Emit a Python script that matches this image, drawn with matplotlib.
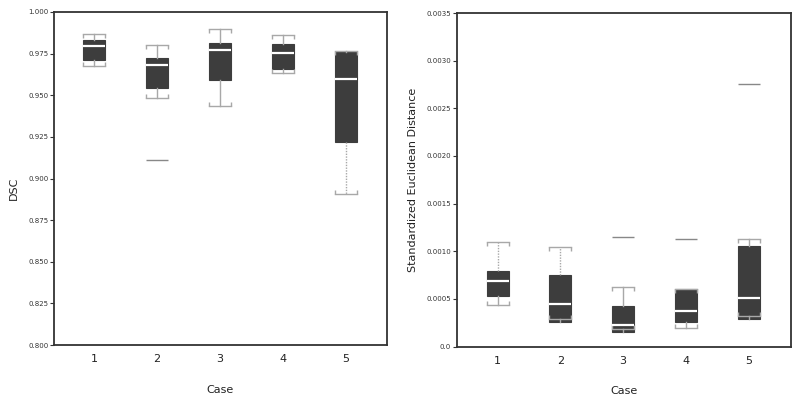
import matplotlib
matplotlib.use('Agg')
import matplotlib.pyplot as plt
from matplotlib.path import Path

# cases on the x axis
cases = [1, 2, 3, 4, 5]

# DSC boxes
dsc_whishi = [0.9868, 0.9800, 0.9900, 0.9864, 0.9768]
dsc_q3 = [0.9830, 0.9722, 0.9816, 0.9810, 0.9758]
dsc_med = [0.9798, 0.9680, 0.9770, 0.9756, 0.9600]
dsc_q1 = [0.9714, 0.9544, 0.9592, 0.9656, 0.9217]
dsc_whislo = [0.9674, 0.9484, 0.9434, 0.9634, 0.8907]
dsc_fliers = [[], [0.9110], [], [], []]

# standardized euclidean distance boxes
sed_whishi = [0.00110, 0.00104, 0.00063, 0.00060, 0.001125]
sed_q3 = [0.00079, 0.00075, 0.00043, 0.00060, 0.001055]
sed_med = [0.00069, 0.00045, 0.00023, 0.00037, 0.00051]
sed_q1 = [0.00053, 0.00026, 0.00015, 0.00026, 0.00029]
sed_whislo = [0.00044, 0.00029, 0.00018, 0.00019, 0.00032]
sed_fliers = [[], [], [0.001155], [0.00113], [0.00276]]

# which whiskers are dotted (lower, upper) per case
dsc_dotted = [(False, False), (False, False), (False, False), (False, False), (True, False)]
sed_dotted = [(False, True), (False, True), (False, False), (False, False), (False, False)]

dsc_ticks = [0.800, 0.825, 0.850, 0.875, 0.900, 0.925, 0.950, 0.975, 1.000]
dsc_ticklabels = ['0.800', '0.825', '0.850', '0.875', '0.900', '0.925', '0.950', '0.975', '1.000']
sed_ticks = [0.0, 0.0005, 0.0010, 0.0015, 0.0020, 0.0025, 0.0030, 0.0035]
sed_ticklabels = ['0.0', '0.0005', '0.0010', '0.0015', '0.0020', '0.0025', '0.0030', '0.0035']

BOX = '#3d3d3d'
WHISK = '#a8a8a8'
SPINE = '#333333'


def drawPanel(ax, whishi, q3, med, q1, whislo, fliers, dotted, ylim, ticks, ticklabels, ylabel, xlim):
    stats = []
    for i in range(len(cases)):
        stats.append({'med': med[i], 'q1': q1[i], 'q3': q3[i],
                      'whislo': whislo[i], 'whishi': whishi[i],
                      'fliers': fliers[i], 'label': str(cases[i])})
    bp = ax.bxp(stats, positions=cases, widths=0.35, patch_artist=True,
                showfliers=True,
                boxprops=dict(facecolor=BOX, edgecolor=BOX, linewidth=0.8),
                medianprops=dict(color='white', linewidth=1.6),
                whiskerprops=dict(color=WHISK, linewidth=1.0),
                capprops=dict(color=WHISK, linewidth=1.0),
                capwidths=0.35,
                flierprops=dict(marker='_', markersize=16, markeredgecolor='#888888',
                                markeredgewidth=1.0, linestyle='none'))
    # caps look like brackets: small ticks pointing toward the box
    down = Path([(0, 0), (0, -1)])
    up = Path([(0, 0), (0, 1)])
    for k, cap in enumerate(bp['caps']):
        cap.set_marker(up if k % 2 == 0 else down)
        cap.set_markersize(6)
        cap.set_markeredgecolor(WHISK)
        cap.set_markeredgewidth(1.0)
        cap.set_zorder(4)
    for k, wh in enumerate(bp['whiskers']):
        if dotted[k // 2][k % 2]:
            wh.set_linestyle((0, (1, 1)))
    for m in bp['medians']:
        m.set_zorder(5)

    ax.set_xlim(*xlim)
    ax.set_ylim(*ylim)
    ax.set_yticks(ticks)
    ax.set_yticklabels(ticklabels)
    ax.tick_params(axis='y', labelsize=5, length=3, width=0.8, color=SPINE, pad=1,
                   labelcolor='#333333')
    ax.tick_params(axis='x', labelsize=8, length=0, pad=6.5, labelcolor='#222222')
    for s in ax.spines.values():
        s.set_color(SPINE)
        s.set_linewidth(1.3)
    ax.set_xlabel('Case', fontsize=8, labelpad=15, color='#222222')
    ax.set_ylabel(ylabel, fontsize=8, color='#222222')


fig = plt.figure(figsize=(8, 4), dpi=100)
ax1 = fig.add_axes([0.0675, 0.1375, 0.416, 0.8325])
ax2 = fig.add_axes([0.571, 0.1335, 0.4175, 0.834])

drawPanel(ax1, dsc_whishi, dsc_q3, dsc_med, dsc_q1, dsc_whislo, dsc_fliers, dsc_dotted,
          (0.800, 1.000), dsc_ticks, dsc_ticklabels, 'DSC', (0.365, 5.65))
drawPanel(ax2, sed_whishi, sed_q3, sed_med, sed_q1, sed_whislo, sed_fliers, sed_dotted,
          (0.0, 0.0035), sed_ticks, sed_ticklabels, 'Standardized Euclidean Distance', (0.35, 5.67))
ax1.yaxis.set_label_coords(-0.105, 0.47)
ax2.yaxis.set_label_coords(-0.115, 0.5)

fig.savefig('out.png', dpi=100)
